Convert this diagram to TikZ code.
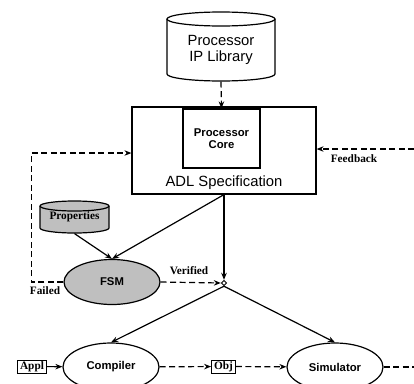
\documentclass[tikz,border=0pt]{standalone}
\usepackage{fontspec}
\setmainfont{Liberation Serif}
\setsansfont{Liberation Sans}
\usetikzlibrary{arrows.meta,shapes.geometric}
\definecolor{shade}{gray}{0.75}

\begin{document}
\begin{tikzpicture}[x=1pt,y=-1pt, line width=1.2pt,
  tip/.style={-{Stealth[length=7pt,width=5.5pt]}},
  dashline/.style={dash pattern=on 6pt off 3.5pt},
  bigsans/.style={font=\fontsize{14.8}{15.5}\selectfont\sffamily},
  boldsans/.style={font=\fontsize{11.3}{11.5}\selectfont\sffamily\bfseries},
  boldserif/.style={font=\fontsize{11.3}{12}\selectfont\bfseries},
  oval/.style={ellipse, draw, boldsans, minimum width=96pt, minimum height=48pt, inner sep=0pt},
  tag/.style={draw, boldserif, line width=1pt, inner xsep=2.5pt, inner ysep=0pt, minimum height=13pt}
]
\useasboundingbox (0,0) rectangle (414,383);
\clip (0,0) rectangle (414,383);

% processor IP library (cylinder)
\draw[fill=white] (167,19) -- (167,74)
  arc[start angle=180, end angle=0, x radius=54, y radius=7] -- (275,19);
\draw[fill=white] (221,19) ellipse[x radius=54, y radius=7];
\node[minimum width=108pt, minimum height=69pt, inner sep=0pt] (ipl) at (221,46.5) {};
\node[bigsans, align=center] (iptext) at (221,50) {Processor\\IP Library};

% ADL specification with the processor core inside
\node[draw, minimum width=184pt, minimum height=87pt, inner sep=0pt] (adl) at (224,150.5) {};
\node[draw, boldsans, align=center, minimum width=77pt, minimum height=59pt, inner sep=0pt] (core) at (221.5,138.5) {Processor\\Core};
\node[bigsans] (adltext) at (224,183) {ADL Specification};

% properties (cylinder)
\draw[fill=shade] (40,206) -- (40,228)
  arc[start angle=180, end angle=0, x radius=34.5, y radius=5] -- (109,206);
\draw[fill=shade] (74.5,206) ellipse[x radius=34.5, y radius=5];
\node[minimum width=69pt, minimum height=32pt, inner sep=0pt] (props) at (74.5,217) {};
\node[boldserif] (proptext) at (74.5,217) {Properties};

% verification and tool nodes
\node[oval, fill=shade, minimum height=45pt] (fsm) at (112,282) {FSM};
\node[diamond, draw, fill=white, inner sep=0pt, minimum size=5.5pt, line width=0.9pt] (jn) at (224,283) {};
\node[oval] (comp) at (111,367) {Compiler};
\node[oval] (sim) at (335,367) {Simulator};
\node[tag] (appl) at (32,366.5) {Appl};
\node[tag] (obj) at (223.5,366.5) {Obj};

% free ends of the connectors leaving the picture
\coordinate (fbin) at (414,149);
\coordinate (simout) at (414,367);

% connectors
\draw[dashline, tip] (ipl.south) -- (core.north);
\draw[dashline, tip] (fbin) -- (fbin -| adl.east);
\draw[dashline, tip] (fsm.west) -- ++(-32,0) |- ([yshift=-2.5pt]adl.west);
\draw[tip] (adl.south) -- (fsm.north);
\draw[tip] (props.south) -- (fsm.north);
\draw[tip] (adl.south) -- (jn.north);
\draw[dashline, tip] (fsm.east) -- (jn.west);
\draw[tip] (jn.south) -- (comp.north);
\draw[tip] (jn.south) -- (sim.north);
\draw[tip] (appl) -- (comp);
\draw[dashline, tip] (comp) -- (obj);
\draw[dashline, tip] (obj) -- (sim);
\draw[dashline] (sim.east) -- (simout);

% labels
\node[boldserif] (fblabel) at (354,159) {Feedback};
\node[boldserif] (verlabel) at (189,271) {Verified};
\node[boldserif] (faillabel) at (45,291) {Failed};
\end{tikzpicture}
\end{document}
